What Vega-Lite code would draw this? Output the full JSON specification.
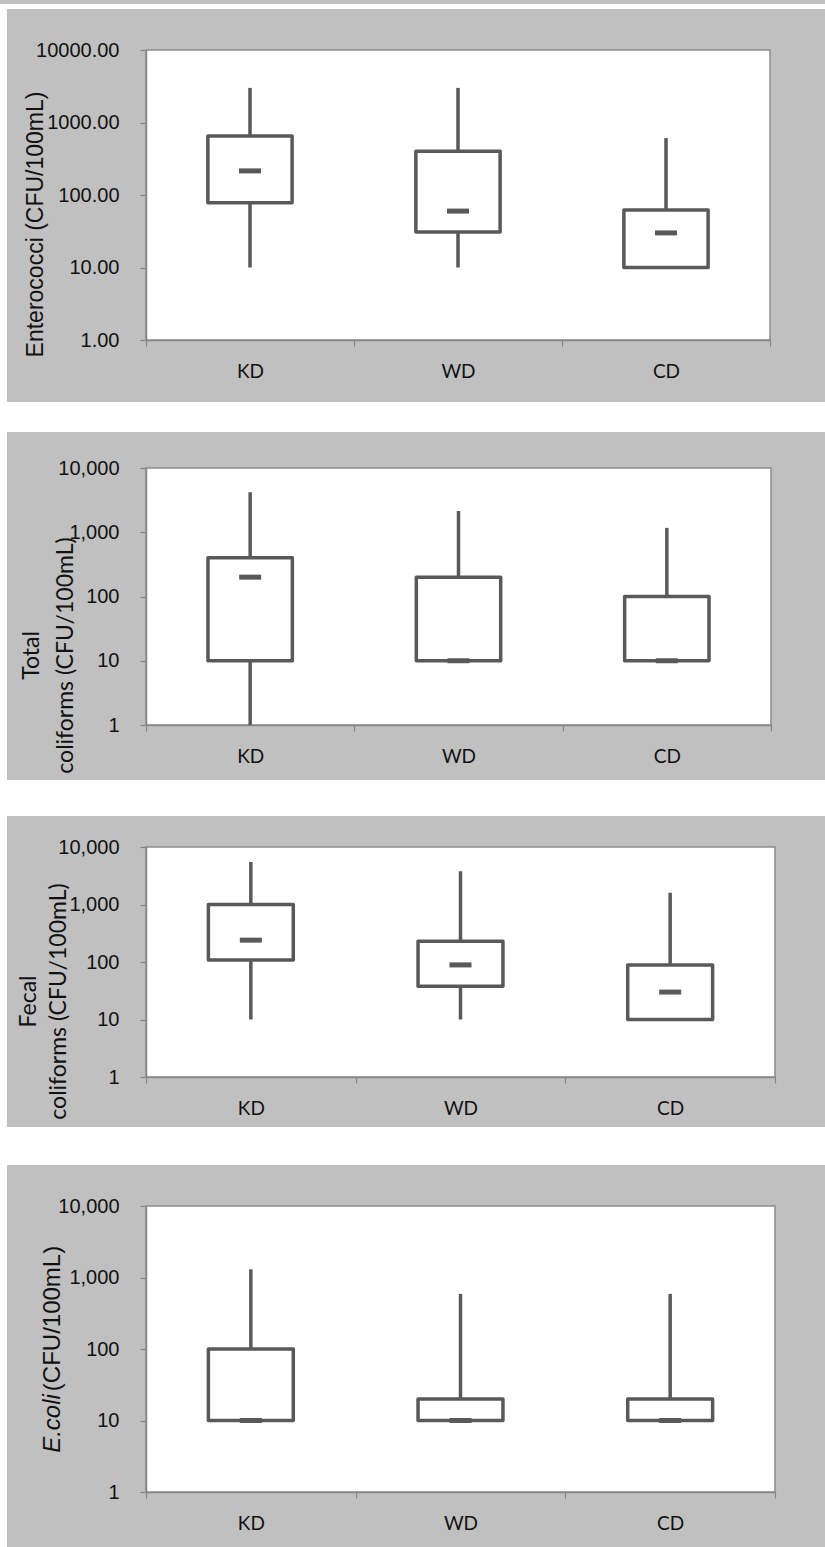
{
  "$schema": "https://vega.github.io/schema/vega-lite/v6.json",
  "background": "#c0c0c0",
  "padding": 0,
  "bounds": "flush",
  "spacing": 0,
  "columns": 3,
  "config": {
    "view": {"stroke": null},
    "axis": {
      "domainColor": "#868686",
      "domainWidth": 1.5,
      "tickColor": "#868686",
      "tickWidth": 1.2,
      "tickSize": 6,
      "grid": false,
      "labelColor": "#111111",
      "titleColor": "#111111"
    },
    "axisX": {
      "labelFont": "Lato",
      "labelFontSize": 19,
      "labelPadding": 16,
      "labelAngle": 0,
      "tickBand": "extent",
      "title": null
    },
    "axisY": {
      "labelFont": "Liberation Sans",
      "labelFontSize": 20,
      "labelPadding": 21,
      "titleAngle": 270,
      "titleAlign": "center",
      "titleBaseline": "alphabetic",
      "titleFontWeight": "normal"
    }
  },
  "datasets": {
    "spacer": [{"k": 0}],
    "enterococci": [
      {"site": "KD", "min": 10, "q1": 78, "median": 215, "q3": 650, "max": 3000},
      {"site": "WD", "min": 10, "q1": 31, "median": 60, "q3": 400, "max": 3000},
      {"site": "CD", "min": 10, "q1": 10, "median": 30, "q3": 62, "max": 610}
    ],
    "total": [
      {"site": "KD", "min": 1, "q1": 10, "median": 200, "q3": 400, "max": 4200},
      {"site": "WD", "min": 10, "q1": 10, "median": 10, "q3": 200, "max": 2150},
      {"site": "CD", "min": 10, "q1": 10, "median": 10, "q3": 100, "max": 1170}
    ],
    "fecal": [
      {"site": "KD", "min": 10, "q1": 108, "median": 240, "q3": 1000, "max": 5500},
      {"site": "WD", "min": 10, "q1": 38, "median": 89, "q3": 230, "max": 3800},
      {"site": "CD", "min": 10, "q1": 10, "median": 30, "q3": 89, "max": 1600}
    ],
    "ecoli": [
      {"site": "KD", "min": 10, "q1": 10, "median": 10, "q3": 100, "max": 1300},
      {"site": "WD", "min": 10, "q1": 10, "median": 10, "q3": 20, "max": 590},
      {"site": "CD", "min": 10, "q1": 10, "median": 10, "q3": 20, "max": 590}
    ]
  },
  "concat": [
    {"width": 7, "height": 5, "view": {"fill": "white", "stroke": null}, "data": {"name": "spacer"}, "mark": {"type": "text", "text": ""}, "encoding": {}},
    {"width": 139, "height": 5, "view": {"fill": "white", "stroke": null}, "data": {"name": "spacer"}, "mark": {"type": "text", "text": ""}, "encoding": {}},
    {"width": 679, "height": 5, "view": {"fill": "white", "stroke": null}, "data": {"name": "spacer"}, "mark": {"type": "text", "text": ""}, "encoding": {}},
    {"width": 7, "height": 41, "view": {"fill": "white", "stroke": null}, "data": {"name": "spacer"}, "mark": {"type": "text", "text": ""}, "encoding": {}},
    {"width": 139, "height": 41, "data": {"name": "spacer"}, "mark": {"type": "text", "text": ""}, "encoding": {}},
    {"width": 679, "height": 41, "data": {"name": "spacer"}, "mark": {"type": "text", "text": ""}, "encoding": {}},

    {"width": 7, "height": 290, "view": {"fill": "white", "stroke": null}, "data": {"name": "spacer"}, "mark": {"type": "text", "text": ""}, "encoding": {}},
    {"width": 139, "height": 290, "data": {"name": "spacer"}, "mark": {"type": "text", "text": ""}, "encoding": {}},
    {
      "width": 624, "height": 290,
      "view": {"fill": "white", "stroke": "#8c8c8c", "strokeWidth": 1.5},
      "data": {"name": "enterococci"},
      "encoding": {
        "x": {"field": "site", "type": "nominal", "sort": ["KD", "WD", "CD"], "scale": {"paddingInner": 0, "paddingOuter": 0}}
      },
      "layer": [
        {
          "mark": {"type": "rule", "color": "#595959", "strokeWidth": 3.5},
          "encoding": {
            "y": {"field": "min", "type": "quantitative", "scale": {"type": "log", "domain": [1, 10000]},
              "axis": {"values": [1, 10, 100, 1000, 10000], "format": ".2f", "title": "Enterococci (CFU/100mL)", "titleFont": "Liberation Sans", "titleFontSize": 23, "titleX": -104, "titleY": 174}},
            "y2": {"field": "max"}
          }
        },
        {
          "mark": {"type": "bar", "fill": "white", "stroke": "#595959", "strokeWidth": 3.5, "strokeJoin": "round", "width": {"band": 0.405}},
          "encoding": {"y": {"field": "q1", "type": "quantitative"}, "y2": {"field": "q3"}}
        },
        {
          "mark": {"type": "tick", "color": "#595959", "opacity": 1, "size": 22, "thickness": 5},
          "encoding": {"y": {"field": "median", "type": "quantitative"}}
        }
      ]
    },

    {"width": 7, "height": 62, "view": {"fill": "white", "stroke": null}, "data": {"name": "spacer"}, "mark": {"type": "text", "text": ""}, "encoding": {}},
    {"width": 139, "height": 62, "data": {"name": "spacer"}, "mark": {"type": "text", "text": ""}, "encoding": {}},
    {"width": 679, "height": 62, "data": {"name": "spacer"}, "mark": {"type": "text", "text": ""}, "encoding": {}},
    {"width": 7, "height": 30, "view": {"fill": "white", "stroke": null}, "data": {"name": "spacer"}, "mark": {"type": "text", "text": ""}, "encoding": {}},
    {"width": 139, "height": 30, "view": {"fill": "white", "stroke": null}, "data": {"name": "spacer"}, "mark": {"type": "text", "text": ""}, "encoding": {}},
    {"width": 679, "height": 30, "view": {"fill": "white", "stroke": null}, "data": {"name": "spacer"}, "mark": {"type": "text", "text": ""}, "encoding": {}},
    {"width": 7, "height": 36, "view": {"fill": "white", "stroke": null}, "data": {"name": "spacer"}, "mark": {"type": "text", "text": ""}, "encoding": {}},
    {"width": 139, "height": 36, "data": {"name": "spacer"}, "mark": {"type": "text", "text": ""}, "encoding": {}},
    {"width": 679, "height": 36, "data": {"name": "spacer"}, "mark": {"type": "text", "text": ""}, "encoding": {}},

    {"width": 7, "height": 257, "view": {"fill": "white", "stroke": null}, "data": {"name": "spacer"}, "mark": {"type": "text", "text": ""}, "encoding": {}},
    {"width": 139, "height": 257, "data": {"name": "spacer"}, "mark": {"type": "text", "text": ""}, "encoding": {}},
    {
      "width": 625, "height": 257,
      "view": {"fill": "white", "stroke": "#8c8c8c", "strokeWidth": 1.5},
      "data": {"name": "total"},
      "encoding": {
        "x": {"field": "site", "type": "nominal", "sort": ["KD", "WD", "CD"], "scale": {"paddingInner": 0, "paddingOuter": 0}}
      },
      "layer": [
        {
          "mark": {"type": "rule", "color": "#595959", "strokeWidth": 3.5},
          "encoding": {
            "y": {"field": "min", "type": "quantitative", "scale": {"type": "log", "domain": [1, 10000]},
              "axis": {"values": [1, 10, 100, 1000, 10000], "format": ",", "title": ["Total", "coliforms (CFU/100mL)"], "titleFont": "Lato", "titleFontSize": 23, "titleLineHeight": 34, "titleX": -108, "titleY": 187}},
            "y2": {"field": "max"}
          }
        },
        {
          "mark": {"type": "bar", "fill": "white", "stroke": "#595959", "strokeWidth": 3.5, "strokeJoin": "round", "width": {"band": 0.405}},
          "encoding": {"y": {"field": "q1", "type": "quantitative"}, "y2": {"field": "q3"}}
        },
        {
          "mark": {"type": "tick", "color": "#595959", "opacity": 1, "size": 22, "thickness": 5},
          "encoding": {"y": {"field": "median", "type": "quantitative"}}
        }
      ]
    },

    {"width": 7, "height": 55, "view": {"fill": "white", "stroke": null}, "data": {"name": "spacer"}, "mark": {"type": "text", "text": ""}, "encoding": {}},
    {"width": 139, "height": 55, "data": {"name": "spacer"}, "mark": {"type": "text", "text": ""}, "encoding": {}},
    {"width": 679, "height": 55, "data": {"name": "spacer"}, "mark": {"type": "text", "text": ""}, "encoding": {}},
    {"width": 7, "height": 36, "view": {"fill": "white", "stroke": null}, "data": {"name": "spacer"}, "mark": {"type": "text", "text": ""}, "encoding": {}},
    {"width": 139, "height": 36, "view": {"fill": "white", "stroke": null}, "data": {"name": "spacer"}, "mark": {"type": "text", "text": ""}, "encoding": {}},
    {"width": 679, "height": 36, "view": {"fill": "white", "stroke": null}, "data": {"name": "spacer"}, "mark": {"type": "text", "text": ""}, "encoding": {}},
    {"width": 7, "height": 31, "view": {"fill": "white", "stroke": null}, "data": {"name": "spacer"}, "mark": {"type": "text", "text": ""}, "encoding": {}},
    {"width": 139, "height": 31, "data": {"name": "spacer"}, "mark": {"type": "text", "text": ""}, "encoding": {}},
    {"width": 679, "height": 31, "data": {"name": "spacer"}, "mark": {"type": "text", "text": ""}, "encoding": {}},

    {"width": 7, "height": 230, "view": {"fill": "white", "stroke": null}, "data": {"name": "spacer"}, "mark": {"type": "text", "text": ""}, "encoding": {}},
    {"width": 139, "height": 230, "data": {"name": "spacer"}, "mark": {"type": "text", "text": ""}, "encoding": {}},
    {
      "width": 629, "height": 230,
      "view": {"fill": "white", "stroke": "#8c8c8c", "strokeWidth": 1.5},
      "data": {"name": "fecal"},
      "encoding": {
        "x": {"field": "site", "type": "nominal", "sort": ["KD", "WD", "CD"], "scale": {"paddingInner": 0, "paddingOuter": 0}}
      },
      "layer": [
        {
          "mark": {"type": "rule", "color": "#595959", "strokeWidth": 3.5},
          "encoding": {
            "y": {"field": "min", "type": "quantitative", "scale": {"type": "log", "domain": [1, 10000]},
              "axis": {"values": [1, 10, 100, 1000, 10000], "format": ",", "title": ["Fecal", "coliforms (CFU/100mL)"], "titleFont": "Lato", "titleFontSize": 23, "titleLineHeight": 30, "titleX": -111, "titleY": 154}},
            "y2": {"field": "max"}
          }
        },
        {
          "mark": {"type": "bar", "fill": "white", "stroke": "#595959", "strokeWidth": 3.5, "strokeJoin": "round", "width": {"band": 0.405}},
          "encoding": {"y": {"field": "q1", "type": "quantitative"}, "y2": {"field": "q3"}}
        },
        {
          "mark": {"type": "tick", "color": "#595959", "opacity": 1, "size": 22, "thickness": 5},
          "encoding": {"y": {"field": "median", "type": "quantitative"}}
        }
      ]
    },

    {"width": 7, "height": 50, "view": {"fill": "white", "stroke": null}, "data": {"name": "spacer"}, "mark": {"type": "text", "text": ""}, "encoding": {}},
    {"width": 139, "height": 50, "data": {"name": "spacer"}, "mark": {"type": "text", "text": ""}, "encoding": {}},
    {"width": 679, "height": 50, "data": {"name": "spacer"}, "mark": {"type": "text", "text": ""}, "encoding": {}},
    {"width": 7, "height": 38, "view": {"fill": "white", "stroke": null}, "data": {"name": "spacer"}, "mark": {"type": "text", "text": ""}, "encoding": {}},
    {"width": 139, "height": 38, "view": {"fill": "white", "stroke": null}, "data": {"name": "spacer"}, "mark": {"type": "text", "text": ""}, "encoding": {}},
    {"width": 679, "height": 38, "view": {"fill": "white", "stroke": null}, "data": {"name": "spacer"}, "mark": {"type": "text", "text": ""}, "encoding": {}},
    {"width": 7, "height": 41, "view": {"fill": "white", "stroke": null}, "data": {"name": "spacer"}, "mark": {"type": "text", "text": ""}, "encoding": {}},
    {"width": 139, "height": 41, "data": {"name": "spacer"}, "mark": {"type": "text", "text": ""}, "encoding": {}},
    {"width": 679, "height": 41, "data": {"name": "spacer"}, "mark": {"type": "text", "text": ""}, "encoding": {}},

    {"width": 7, "height": 286, "view": {"fill": "white", "stroke": null}, "data": {"name": "spacer"}, "mark": {"type": "text", "text": ""}, "encoding": {}},
    {"width": 139, "height": 286, "data": {"name": "spacer"}, "mark": {"type": "text", "text": ""}, "encoding": {}},
    {
      "width": 629, "height": 286,
      "view": {"fill": "white", "stroke": "#8c8c8c", "strokeWidth": 1.5},
      "data": {"name": "ecoli"},
      "encoding": {
        "x": {"field": "site", "type": "nominal", "sort": ["KD", "WD", "CD"], "scale": {"paddingInner": 0, "paddingOuter": 0}}
      },
      "resolve": {"axis": {"y": "independent"}},
      "layer": [
        {
          "mark": {"type": "rule", "color": "#595959", "strokeWidth": 3.5},
          "encoding": {
            "y": {"field": "min", "type": "quantitative", "scale": {"type": "log", "domain": [1, 10000]},
              "axis": {"orient": "left", "values": [1, 10, 100, 1000, 10000], "format": ",", "title": "E.coli", "titleFont": "Liberation Sans", "titleFontStyle": "italic", "titleFontSize": 24, "titleX": -87, "titleY": 217}},
            "y2": {"field": "max"}
          }
        },
        {
          "mark": {"type": "bar", "fill": "white", "stroke": "#595959", "strokeWidth": 3.5, "strokeJoin": "round", "width": {"band": 0.405}},
          "encoding": {"y": {"field": "q1", "type": "quantitative",
              "axis": {"orient": "left", "labels": false, "ticks": false, "domain": false, "title": "(CFU/100mL)", "titleFont": "Liberation Sans", "titleFontSize": 24, "titleX": -87, "titleY": 112}},
            "y2": {"field": "q3"}}
        },
        {
          "mark": {"type": "tick", "color": "#595959", "opacity": 1, "size": 22, "thickness": 5},
          "encoding": {"y": {"field": "median", "type": "quantitative", "axis": null}}
        }
      ]
    },

    {"width": 7, "height": 59, "view": {"fill": "white", "stroke": null}, "data": {"name": "spacer"}, "mark": {"type": "text", "text": ""}, "encoding": {}},
    {"width": 139, "height": 59, "data": {"name": "spacer"}, "mark": {"type": "text", "text": ""}, "encoding": {}},
    {"width": 679, "height": 59, "data": {"name": "spacer"}, "mark": {"type": "text", "text": ""}, "encoding": {}}
  ]
}
